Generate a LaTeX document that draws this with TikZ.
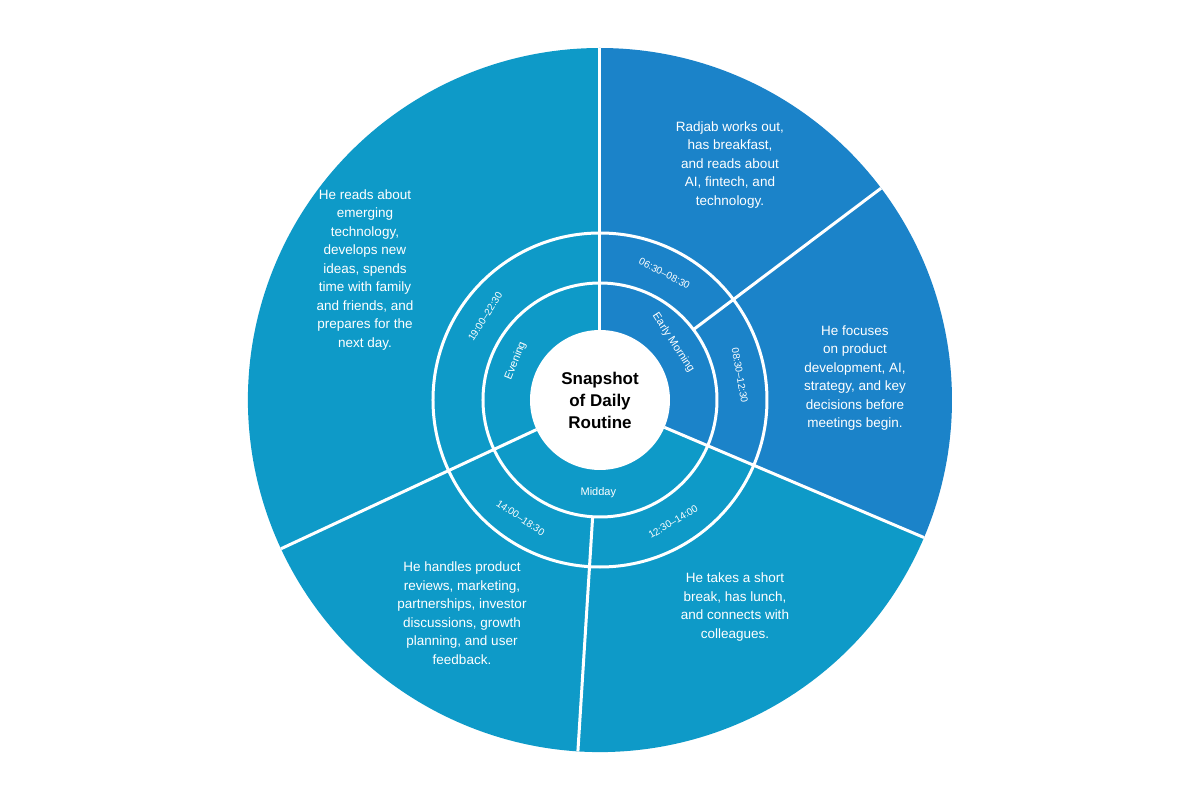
\documentclass[tikz,border=0pt]{standalone}
\usepackage{fontspec}
\setmainfont{Liberation Sans}
\definecolor{dk}{RGB}{27,131,201}
\definecolor{tl}{RGB}{14,154,200}
\begin{document}
\begin{tikzpicture}[x=1pt,y=1pt,
  sep/.style={white,line width=3pt},
  body/.style={white,align=center,font=\fontsize{13.5}{18.5}\selectfont},
  rl/.style={white,font=\fontsize{10}{11}\selectfont},
  rm/.style={white,font=\fontsize{11}{12}\selectfont}]
\useasboundingbox[fill=white] (-600,-400) rectangle (600,400);
\fill[dk] (0,0) -- (90:352) arc (90:-23:352) -- cycle;
\fill[tl] (0,0) -- (-23:352) arc (-23:-270:352) -- cycle;
\draw[sep] (0,0) circle (167);
\draw[sep] (0,0) circle (117);
\draw[sep] (90:70) -- (90:352);
\draw[sep] (37:117) -- (37:352);
\draw[sep] (-23:70) -- (-23:352);
\draw[sep] (-93.6:117) -- (-93.6:352);
\draw[sep] (-155:70) -- (-155:352);
\node[circle,fill=white,minimum size=140pt,inner sep=0pt] (c) at (0,0) {};
\node[align=center,font=\fontsize{17}{22}\selectfont\bfseries] (title) at (0,0) {Snapshot\\of Daily\\Routine};
\node[rm,rotate=-57] (em) at (38:93) {Early Morning};
\node[rm,rotate=68] (ev) at (155:93) {Evening};
\node[rm] (md) at (-91:93) {Midday};
\node[rl,rotate=-27] (t1) at (63:142) {06:30--08:30};
\node[rl,rotate=-80] (t2) at (10:142) {08:30--12:30};
\node[rl,rotate=31] (t3) at (-59:142) {12:30--14:00};
\node[rl,rotate=-34] (t4) at (-124:142) {14:00--18:30};
\node[rl,rotate=58] (t5) at (144:142) {19:00--22:30};
\node[body] (b1) at (130,235) {Radjab works out,\\has breakfast,\\and reads about\\AI, fintech, and\\technology.};
\node[body] (b2) at (255,22) {He focuses\\on product\\development, AI,\\strategy, and key\\decisions before\\meetings begin.};
\node[body] (b3) at (135,-207) {He takes a short\\break, has lunch,\\and connects with\\colleagues.};
\node[body] (b4) at (-138,-213) {He handles product\\reviews, marketing,\\partnerships, investor\\discussions, growth\\planning, and user\\feedback.};
\node[body] (b5) at (-235,130) {He reads about\\emerging\\technology,\\develops new\\ideas, spends\\time with family\\and friends, and\\prepares for the\\next day.};
\end{tikzpicture}
\end{document}
